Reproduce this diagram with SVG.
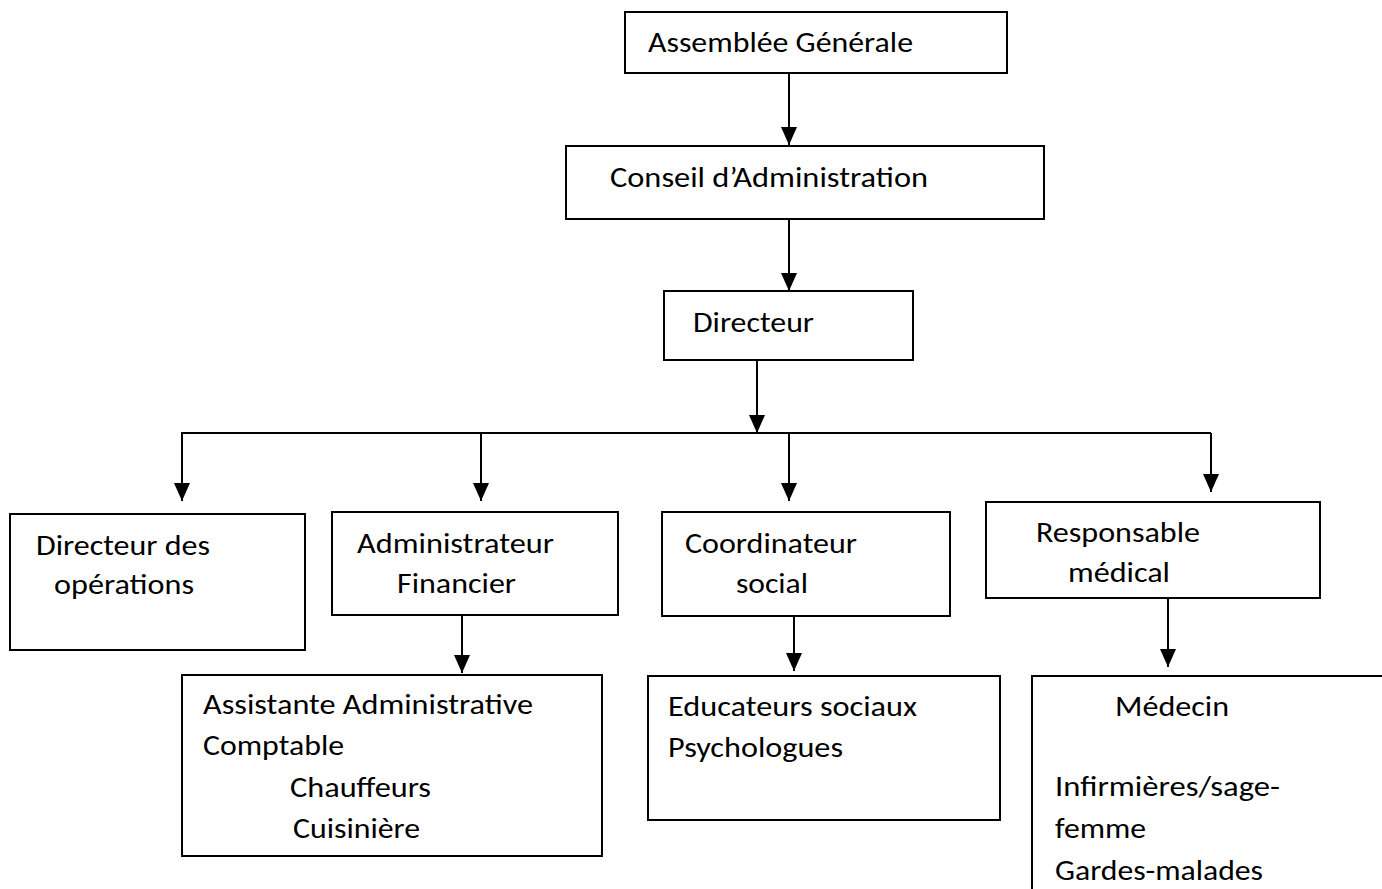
<svg xmlns="http://www.w3.org/2000/svg" width="1382" height="889" viewBox="0 0 1382 889">
<style>
.box{fill:#fff;stroke:#000;stroke-width:2}
.t{font-family:Carlito,Lato,"Liberation Sans",sans-serif;font-size:28px;fill:#000}
.c{fill:none;stroke:#000;stroke-width:2}
</style>
<defs>
<marker id="a" markerUnits="userSpaceOnUse" markerWidth="18" markerHeight="16" viewBox="0 0 18 16" refX="18" refY="8" orient="auto">
<path d="M0,0 L18,8 L0,16 Z" fill="#000"/>
</marker>
</defs>
<g id="connectors">
<line class="c" x1="789" y1="73" x2="789" y2="145" marker-end="url(#a)"/>
<line class="c" x1="789" y1="219" x2="789" y2="291" marker-end="url(#a)"/>
<line class="c" x1="757" y1="360" x2="757" y2="433" marker-end="url(#a)"/>
<line class="c" x1="181" y1="433" x2="1211" y2="433"/>
<line class="c" x1="182" y1="433" x2="182" y2="501" marker-end="url(#a)"/>
<line class="c" x1="481" y1="433" x2="481" y2="501" marker-end="url(#a)"/>
<line class="c" x1="789" y1="433" x2="789" y2="501" marker-end="url(#a)"/>
<line class="c" x1="1211" y1="433" x2="1211" y2="492" marker-end="url(#a)"/>
<line class="c" x1="462" y1="615" x2="462" y2="673" marker-end="url(#a)"/>
<line class="c" x1="794" y1="616" x2="794" y2="671" marker-end="url(#a)"/>
<line class="c" x1="1168" y1="598" x2="1168" y2="667" marker-end="url(#a)"/>
</g>
<g id="ag"><rect class="box" x="625" y="12" width="382" height="61"/><text class="t" x="648" y="52" textLength="265" lengthAdjust="spacingAndGlyphs">Assemblée Générale</text></g>
<g id="ca"><rect class="box" x="566" y="146" width="478" height="73"/><text class="t" x="610" y="187" textLength="318" lengthAdjust="spacingAndGlyphs">Conseil d’Administration</text></g>
<g id="dir"><rect class="box" x="664" y="291" width="249" height="69"/><text class="t" x="693" y="332" textLength="121" lengthAdjust="spacingAndGlyphs">Directeur</text></g>
<g id="do"><rect class="box" x="10" y="514" width="295" height="136"/><text class="t" x="36" y="555" textLength="174" lengthAdjust="spacingAndGlyphs">Directeur des</text><text class="t" x="54" y="594" textLength="140" lengthAdjust="spacingAndGlyphs">opérations</text></g>
<g id="af"><rect class="box" x="332" y="512" width="286" height="103"/><text class="t" x="357" y="553" textLength="197" lengthAdjust="spacingAndGlyphs">Administrateur</text><text class="t" x="397" y="593" textLength="119" lengthAdjust="spacingAndGlyphs">Financier</text></g>
<g id="cs"><rect class="box" x="662" y="512" width="288" height="104"/><text class="t" x="685" y="553" textLength="172" lengthAdjust="spacingAndGlyphs">Coordinateur</text><text class="t" x="736" y="593" textLength="72" lengthAdjust="spacingAndGlyphs">social</text></g>
<g id="rm"><rect class="box" x="986" y="502" width="334" height="96"/><text class="t" x="1036" y="542" textLength="164" lengthAdjust="spacingAndGlyphs">Responsable</text><text class="t" x="1068" y="582" textLength="102" lengthAdjust="spacingAndGlyphs">médical</text></g>
<g id="aa"><rect class="box" x="182" y="675" width="420" height="181"/><text class="t" x="203" y="714" textLength="330" lengthAdjust="spacingAndGlyphs">Assistante Administrative</text><text class="t" x="203" y="755" textLength="141" lengthAdjust="spacingAndGlyphs">Comptable</text><text class="t" x="290" y="797" textLength="141" lengthAdjust="spacingAndGlyphs">Chauffeurs</text><text class="t" x="293" y="838" textLength="127" lengthAdjust="spacingAndGlyphs">Cuisinière</text></g>
<g id="es"><rect class="box" x="648" y="676" width="352" height="144"/><text class="t" x="668" y="716" textLength="249" lengthAdjust="spacingAndGlyphs">Educateurs sociaux</text><text class="t" x="668" y="757" textLength="175" lengthAdjust="spacingAndGlyphs">Psychologues</text></g>
<g id="med"><rect class="box" x="1032" y="676" width="380" height="260"/><text class="t" x="1115" y="716" textLength="114" lengthAdjust="spacingAndGlyphs">Médecin</text><text class="t" x="1055" y="796" textLength="225" lengthAdjust="spacingAndGlyphs">Infirmières/sage-</text><text class="t" x="1055" y="838" textLength="91" lengthAdjust="spacingAndGlyphs">femme</text><text class="t" x="1055" y="880" textLength="208" lengthAdjust="spacingAndGlyphs">Gardes-malades</text></g>
</svg>
